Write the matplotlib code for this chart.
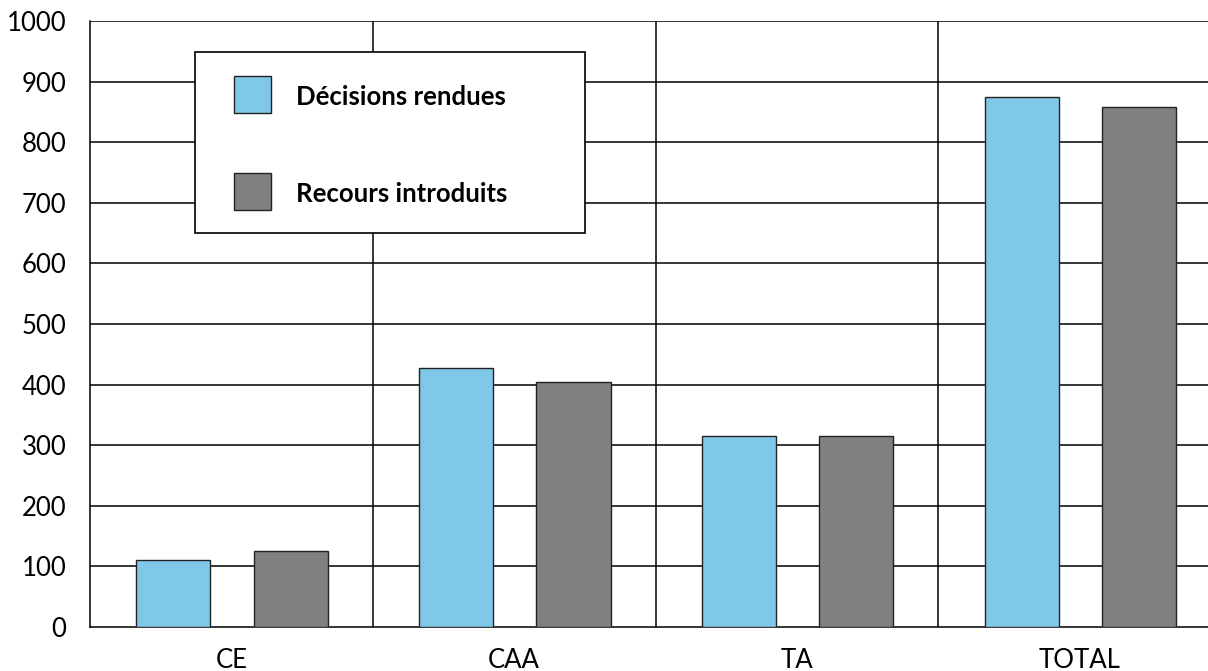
import matplotlib
matplotlib.use("Agg")
import matplotlib.pyplot as plt
from matplotlib.patches import Rectangle
import numpy as np

plt.rcParams['font.family'] = ['Lato', 'DejaVu Sans']

categories = ["CE", "CAA", "TA", "TOTAL"]
decisions_rendues = [110, 428, 315, 875]
recours_introduits = [125, 405, 315, 858]
yticks = [0, 100, 200, 300, 400, 500, 600, 700, 800, 900, 1000]
series_labels = ["Décisions rendues", "Recours introduits"]

blue = "#80C8E8"
grey = "#808080"

W, H = 1208, 671
fig = plt.figure(figsize=(W / 100, H / 100), dpi=100)
ax = fig.add_axes([90 / W, (H - 627) / H, (1221 - 90) / W, (627 - 21) / H])

x = np.arange(len(categories))
bw = 0.262
ax.bar(x - 0.205, decisions_rendues, width=bw, color=blue,
       edgecolor="#222222", linewidth=1.0, zorder=3)
ax.bar(x + 0.21, recours_introduits, width=bw, color=grey,
       edgecolor="#222222", linewidth=1.0, zorder=3)

ax.set_xlim(-0.5, len(categories) - 0.5)
ax.set_ylim(0, 1000)
ax.set_yticks(yticks)
ax.set_yticklabels([str(v) for v in yticks], fontsize=18.5)
ax.set_xticks(x)
ax.set_xticklabels(categories, fontsize=18.5)
ax.tick_params(axis="both", length=0)
ax.tick_params(axis="y", pad=17)
ax.tick_params(axis="x", pad=15)

for v in yticks[1:]:
    ax.axhline(v, color="black", linewidth=1.1, zorder=1)
for sep in x[:-1] + 0.5:
    ax.axvline(sep, color="black", linewidth=1.1, zorder=1)

for side in ("top", "right"):
    ax.spines[side].set_visible(False)
ax.spines["left"].set_linewidth(1.1)
ax.spines["bottom"].set_linewidth(1.1)

# Legend box drawn in figure pixels
def px(x0, y0):
    return x0 / W, 1 - y0 / H

bx0, by0, bx1, by1 = 195, 52, 585, 233
fig.patches.append(Rectangle(px(bx0, by1), (bx1 - bx0) / W, (by1 - by0) / H,
                             transform=fig.transFigure, facecolor="white",
                             edgecolor="black", linewidth=1.2, zorder=10))
for color, label, ytop in [(blue, series_labels[0], 76), (grey, series_labels[1], 173)]:
    fig.patches.append(Rectangle(px(234, ytop + 37), 37 / W, 37 / H,
                                 transform=fig.transFigure, facecolor=color,
                                 edgecolor="#222222", linewidth=1.0, zorder=11))
    tx, ty = px(296, ytop + 21)
    fig.text(tx, ty, label, fontsize=18.5, fontweight="bold",
             va="center", ha="left", zorder=12)

fig.savefig("out.png", dpi=100)
